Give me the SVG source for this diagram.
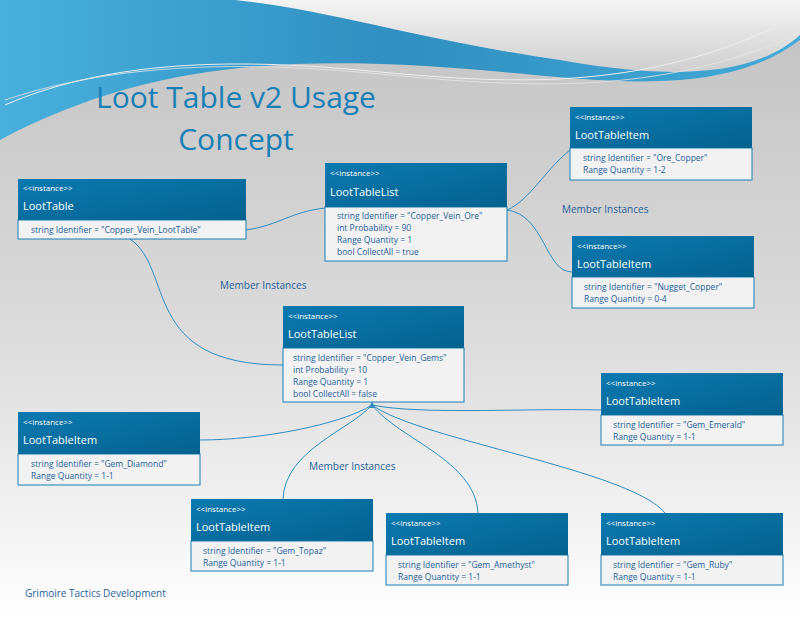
<svg xmlns="http://www.w3.org/2000/svg" width="800" height="618" viewBox="0 0 800 618">
<defs>
<linearGradient id="bg" x1="0" y1="0" x2="0" y2="1"><stop offset="0" stop-color="#c2c2c2"/><stop offset="0.55" stop-color="#dcdcdc"/><stop offset="1" stop-color="#ffffff"/></linearGradient>
<linearGradient id="sw" x1="0" y1="0" x2="1" y2="0"><stop offset="0" stop-color="#49b0dd"/><stop offset="0.5" stop-color="#2f8fc0"/><stop offset="1" stop-color="#44aad8"/></linearGradient>
<linearGradient id="hd" x1="0" y1="0" x2="1" y2="1"><stop offset="0" stop-color="#0b79b0"/><stop offset="1" stop-color="#05628f"/></linearGradient>
<linearGradient id="tr" x1="0" y1="0" x2="0" y2="1"><stop offset="0" stop-color="#f4f4f4"/><stop offset="1" stop-color="#cfcfcf"/></linearGradient>
</defs>
<style>
.hdr{fill:url(#hd)}
.bd{fill:#f2f2f2;stroke:#1a7fb5;stroke-width:1}
.st{font-family:"Open Sans","Liberation Sans",sans-serif;font-size:8px;fill:#fff}
.nm{font-family:"Open Sans","Liberation Sans",sans-serif;font-size:11px;fill:#fff}
.at{font-family:"Open Sans","Liberation Sans",sans-serif;font-size:8.5px;fill:#1f5f9a}
.lb{font-family:"Open Sans","Liberation Sans",sans-serif;font-size:10px;fill:#1f5f9a}
.cn{fill:none;stroke:#2e8cc0;stroke-width:1}
</style>
<rect width="800" height="618" fill="url(#bg)"/>
<path d="M0,0 H800 V40 C720,100 600,80 480,70 C300,55 150,60 0,140 Z" fill="url(#sw)"/>
<path d="M235,0 H800 V35 C740,90 620,70 560,60 C420,40 330,10 235,0 Z" fill="url(#tr)"/>
<path d="M5,105 C120,55 260,60 380,72 C520,85 650,90 790,20" fill="none" stroke="#eeeeee" stroke-width="1"/>
<path d="M5,100 C130,58 270,63 390,75 C530,88 660,95 795,35" fill="none" stroke="#e6e6e6" stroke-width="0.8"/>
<text x="236" y="108" text-anchor="middle" font-family="Open Sans,Liberation Sans,sans-serif" font-size="30" fill="#1a7fb5">Loot Table v2 Usage</text>
<text x="236" y="150" text-anchor="middle" font-family="Open Sans,Liberation Sans,sans-serif" font-size="30" fill="#1a7fb5">Concept</text>
<g id="connectors">
<path class="cn" d="M246,230 C280,225 290,212 325,208"/>
<path class="cn" d="M130,239 C175,270 140,365 283,365"/>
<path class="cn" d="M507,210 C530,200 545,170 570,150"/>
<path class="cn" d="M507,210 C545,215 545,272 572,272"/>
<path class="cn" d="M372,405 C340,425 260,440 200,440"/>
<path class="cn" d="M372,405 C420,415 530,408 601,410"/>
<path class="cn" d="M372,405 C350,430 285,450 283,499"/>
<path class="cn" d="M372,405 C400,440 475,460 478,513"/>
<path class="cn" d="M372,405 C420,440 630,470 665,513"/>
<path d="M369,408 L372,401 L375,408 Z" fill="#2e8cc0"/>
</g>
<text class="lb" x="220" y="289">Member Instances</text>
<text class="lb" x="562" y="213">Member Instances</text>
<text class="lb" x="309" y="470">Member Instances</text>
<text x="25" y="597" font-family="Open Sans,Liberation Sans,sans-serif" font-size="10" fill="#1f5f9a">Grimoire Tactics Development</text>
<g id="n1"><rect class="bd" x="18" y="220" width="228" height="19"/><rect class="hdr" x="18" y="179" width="228" height="41"/><text class="st" x="23" y="191">&lt;&lt;instance&gt;&gt;</text><text class="nm" x="23" y="210">LootTable</text><text class="at" x="31" y="233">string Identifier = "Copper_Vein_LootTable"</text></g>
<g id="n2"><rect class="bd" x="325" y="207" width="182" height="54"/><rect class="hdr" x="325" y="163" width="182" height="44"/><text class="st" x="330" y="176">&lt;&lt;instance&gt;&gt;</text><text class="nm" x="330" y="196">LootTableList</text><text class="at" x="337" y="219">string Identifier = "Copper_Vein_Ore"</text><text class="at" x="337" y="231">int Probability = 90</text><text class="at" x="337" y="243">Range Quantity = 1</text><text class="at" x="337" y="255">bool CollectAll = true</text></g>
<g id="n3"><rect class="bd" x="570" y="148" width="182" height="32"/><rect class="hdr" x="570" y="107" width="182" height="41"/><text class="st" x="575" y="120">&lt;&lt;instance&gt;&gt;</text><text class="nm" x="575" y="139">LootTableItem</text><text class="at" x="583" y="161">string Identifier = "Ore_Copper"</text><text class="at" x="583" y="173">Range Quantity = 1-2</text></g>
<g id="n4"><rect class="bd" x="572" y="277" width="182" height="31"/><rect class="hdr" x="572" y="236" width="182" height="41"/><text class="st" x="577" y="249">&lt;&lt;instance&gt;&gt;</text><text class="nm" x="577" y="268">LootTableItem</text><text class="at" x="584" y="290">string Identifier = "Nugget_Copper"</text><text class="at" x="584" y="302">Range Quantity = 0-4</text></g>
<g id="n5"><rect class="bd" x="283" y="348" width="181" height="54"/><rect class="hdr" x="283" y="306" width="181" height="42"/><text class="st" x="288" y="319">&lt;&lt;instance&gt;&gt;</text><text class="nm" x="288" y="338">LootTableList</text><text class="at" x="293" y="361">string Identifier = "Copper_Vein_Gems"</text><text class="at" x="293" y="373">int Probability = 10</text><text class="at" x="293" y="385">Range Quantity = 1</text><text class="at" x="293" y="397">bool CollectAll = false</text></g>
<g id="n6"><rect class="bd" x="601" y="415" width="182" height="30"/><rect class="hdr" x="601" y="373" width="182" height="42"/><text class="st" x="606" y="386">&lt;&lt;instance&gt;&gt;</text><text class="nm" x="606" y="405">LootTableItem</text><text class="at" x="613" y="428">string Identifier = "Gem_Emerald"</text><text class="at" x="613" y="440">Range Quantity = 1-1</text></g>
<g id="n7"><rect class="bd" x="18" y="454" width="182" height="31"/><rect class="hdr" x="18" y="412" width="182" height="42"/><text class="st" x="23" y="425">&lt;&lt;instance&gt;&gt;</text><text class="nm" x="23" y="444">LootTableItem</text><text class="at" x="31" y="467">string Identifier = "Gem_Diamond"</text><text class="at" x="31" y="479">Range Quantity = 1-1</text></g>
<g id="n8"><rect class="bd" x="191" y="541" width="182" height="30"/><rect class="hdr" x="191" y="499" width="182" height="42"/><text class="st" x="196" y="512">&lt;&lt;instance&gt;&gt;</text><text class="nm" x="196" y="531">LootTableItem</text><text class="at" x="203" y="554">string Identifier = "Gem_Topaz"</text><text class="at" x="203" y="566">Range Quantity = 1-1</text></g>
<g id="n9"><rect class="bd" x="386" y="555" width="182" height="30"/><rect class="hdr" x="386" y="513" width="182" height="42"/><text class="st" x="391" y="526">&lt;&lt;instance&gt;&gt;</text><text class="nm" x="391" y="545">LootTableItem</text><text class="at" x="398" y="568">string Identifier = "Gem_Amethyst"</text><text class="at" x="398" y="580">Range Quantity = 1-1</text></g>
<g id="n10"><rect class="bd" x="601" y="555" width="182" height="30"/><rect class="hdr" x="601" y="513" width="182" height="42"/><text class="st" x="606" y="526">&lt;&lt;instance&gt;&gt;</text><text class="nm" x="606" y="545">LootTableItem</text><text class="at" x="613" y="568">string Identifier = "Gem_Ruby"</text><text class="at" x="613" y="580">Range Quantity = 1-1</text></g>
</svg>
